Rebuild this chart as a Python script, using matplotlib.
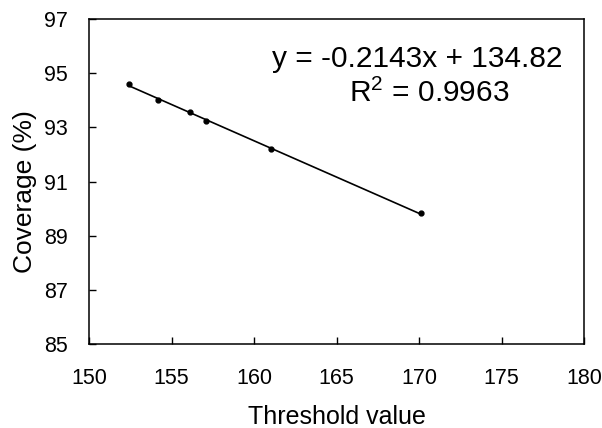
import matplotlib.pyplot as plt
import numpy as np

plt.rcParams['font.family'] = ['Liberation Sans', 'DejaVu Sans']
plt.rcParams['mathtext.fontset'] = 'custom'
plt.rcParams['mathtext.rm'] = 'Liberation Sans'

# values
threshold = [152.4, 154.2, 156.1, 157.1, 161.0, 170.1]
coverage = [94.6, 94.02, 93.56, 93.25, 92.21, 89.82]
x_ticks = [150, 155, 160, 165, 170, 175, 180]
y_ticks = [85, 87, 89, 91, 93, 95, 97]

fig = plt.figure(figsize=(6.02, 4.28), dpi=100)
ax = fig.add_axes([89 / 602, 1 - 344 / 428, (584 - 89) / 602, (344 - 19) / 428])

# trend line through the points
slope, icpt = np.polyfit(threshold, coverage, 1)
xs = np.array([threshold[0], threshold[-1]])
ax.plot(xs, slope * xs + icpt, color='black', lw=1.2)
ax.plot(threshold, coverage, 'o', color='black', ms=3.5)

ax.set_xlim(150, 180)
ax.set_ylim(85, 97)
ax.set_xticks(x_ticks)
ax.set_yticks(y_ticks)
ax.tick_params(direction='in', length=5, width=1, labelsize=15.5, pad=17)
ax.tick_params(axis='y', pad=15)
for s in ax.spines.values():
    s.set_linewidth(1.1)

ax.set_xlabel('Threshold value', fontsize=18, labelpad=12)
ax.set_ylabel('Coverage (%)', fontsize=19)
ax.yaxis.set_label_coords(-0.105, 0.469)

ax.text(0.956, 0.852, 'y = -0.2143x + 134.82', transform=ax.transAxes,
        fontsize=21.5, ha='right', va='baseline')
ax.text(0.526, 0.745, r'R$^{2}$ = 0.9963', transform=ax.transAxes,
        fontsize=21.5, ha='left', va='baseline')

plt.savefig('out.png', dpi=100)
